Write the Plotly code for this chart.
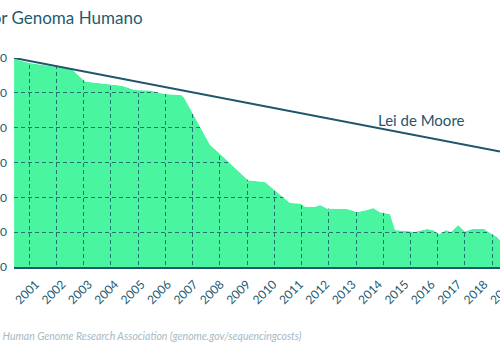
import plotly.graph_objects as go

# ---------------- data ----------------
years = [1999.95, 2000.55, 2001.58, 2002.15, 2002.64, 2003.59, 2004.04, 2004.53,
         2005.10, 2005.67, 2006.28, 2006.39, 2006.81, 2007.38, 2007.64, 2008.25,
         2008.82, 2009.46, 2009.84, 2010.41, 2010.79, 2010.98, 2011.36, 2011.55,
         2011.81, 2012.57, 2012.95, 2013.33, 2013.56, 2013.82, 2014.20, 2014.39,
         2015.15, 2015.41, 2015.60, 2015.83, 2016.06, 2016.32, 2016.51, 2016.78,
         2017.04, 2017.31, 2017.76, 2018.03, 2018.26, 2018.48]
cost = [93_500_000, 72_000_000, 55_000_000, 47_000_000, 21_000_000, 18_000_000,
        16_000_000, 12_000_000, 11_700_000, 9_300_000, 8_700_000, 7_300_000,
        2_000_000, 320_000, 214_000, 79_000, 31_000, 27_500, 16_000, 6_900,
        6_700, 5_400, 5_400, 6_000, 4_800, 4_600, 3_800, 4_300, 4_900, 3_700,
        3_300, 1_150, 1_030, 1_150, 1_230, 1_150, 870, 1_150, 1_010, 1_600,
        1_045, 1_230, 1_230, 915, 726, 457]

moore_years = [1999.95, 2018.37]
moore_cost = [100_000_000, 205_000]

tick_years = list(range(2001, 2020))
tick_labels = [str(y) for y in tick_years]

y_tick_vals = [100, 1_000, 10_000, 100_000, 1_000_000, 10_000_000, 100_000_000]
y_tick_text = ["100", "1.000", "10.000", "100.000", "1.000.000", "10.000.000", "100.000.000"]

title_text = "Custo por Genoma Humano"
source_text = "<i>Fonte: National Human Genome Research Association (genome.gov/sequencingcosts)</i>"
moore_label = "Lei de Moore"

# ---------------- style ----------------
GREEN = "#4AF5A0"
TEAL = "#1E5B70"
LINE = "#1F566B"
GRID = "rgba(30,92,108,0.85)"
SOURCE = "#A6BAC4"
FONT = "Lato"

X_RANGE = [1999.946, 2018.369]
Y_RANGE = [2, 8]
PX_PER_YEAR = 486 / (X_RANGE[1] - X_RANGE[0])
LABEL_SHIFT_PX = 20
LABEL_SHIFT_YR = LABEL_SHIFT_PX / PX_PER_YEAR
LABEL_NUDGE_PX = -6
GRID_TICK0 = 2000.526
GRID_DTICK = 1.0322

fig = go.Figure()

# green area (subplot A, beneath the grid)
fig.add_trace(go.Scatter(x=years, y=cost, mode="lines", line=dict(width=0),
                         fill="tozeroy", fillcolor=GREEN, xaxis="x", yaxis="y",
                         hoverinfo="skip", showlegend=False))

# white cover above the curve (subplot C, above its grid) so the grid only shows on the area
fig.add_trace(go.Scatter(x=[X_RANGE[0], X_RANGE[1]], y=[1e9, 1e9], mode="lines",
                         line=dict(width=0), xaxis="x3", yaxis="y3",
                         hoverinfo="skip", showlegend=False))
fig.add_trace(go.Scatter(x=years, y=cost, mode="lines", line=dict(width=0),
                         fill="tonexty", fillcolor="white", xaxis="x3", yaxis="y3",
                         hoverinfo="skip", showlegend=False))

# Moore's law line
fig.add_trace(go.Scatter(x=moore_years, y=moore_cost, mode="lines",
                         line=dict(color=LINE, width=2), xaxis="x3", yaxis="y3",
                         hoverinfo="skip", showlegend=False))

fig.update_layout(
    template="none",
    width=500, height=350,
    margin=dict(l=14, r=0, t=58, b=83, pad=0),
    paper_bgcolor="white",
    plot_bgcolor="rgba(0,0,0,0)",
    showlegend=False,
    hovermode=False,
    font=dict(family=FONT, color=TEAL),
    xaxis=dict(domain=[0, 1], anchor="y", range=X_RANGE, showgrid=False, zeroline=False,
               showline=False, ticks="", automargin=False,
               tickmode="array",
               tickvals=[y - LABEL_SHIFT_YR for y in tick_years], ticktext=tick_labels,
               ticklabelshift=LABEL_SHIFT_PX + LABEL_NUDGE_PX, tickangle=-45,
               ticklabelstandoff=7, ticklabeloverflow="allow",
               tickfont=dict(family=FONT, size=12, color=TEAL)),
    yaxis=dict(domain=[0, 1], anchor="x", type="log", range=Y_RANGE, visible=False,
               automargin=False),
    xaxis3=dict(domain=[0, 1], anchor="y3", range=X_RANGE, showgrid=True,
                gridcolor=GRID, gridwidth=1, griddash="4px,3px",
                tick0=GRID_TICK0, dtick=GRID_DTICK, showticklabels=False, ticks="",
                zeroline=False, showline=True, linecolor=LINE, linewidth=2,
                automargin=False),
    yaxis3=dict(domain=[0, 1], anchor="x3", type="log", range=Y_RANGE, showgrid=True,
                gridcolor=GRID, gridwidth=1, griddash="4px,3px",
                tickmode="array", tickvals=y_tick_vals, ticktext=y_tick_text,
                ticks="", zeroline=False, showline=False, ticklabelstandoff=6,
                ticklabeloverflow="allow", automargin=False,
                tickfont=dict(family=FONT, size=12, color=TEAL)),
    annotations=[
        dict(text=title_text, xref="paper", yref="paper", x=(145 - 14) / 486,
             y=1 + (58 - 18) / 209, xanchor="right", yanchor="middle", showarrow=False,
             font=dict(family=FONT, size=17, color=TEAL)),
        dict(text=moore_label, xref="x3", yref="y3", x=2015.39, y=6.22,
             xanchor="center", yanchor="middle", showarrow=False,
             font=dict(family=FONT, size=15, color=LINE)),
        dict(text=source_text, xref="paper", yref="paper", x=(304 - 14) / 486,
             y=-(336 - 267) / 209, xanchor="right", yanchor="middle", showarrow=False,
             font=dict(family=FONT, size=10.5, color=SOURCE)),
    ],
)

fig.write_html("out.html")
